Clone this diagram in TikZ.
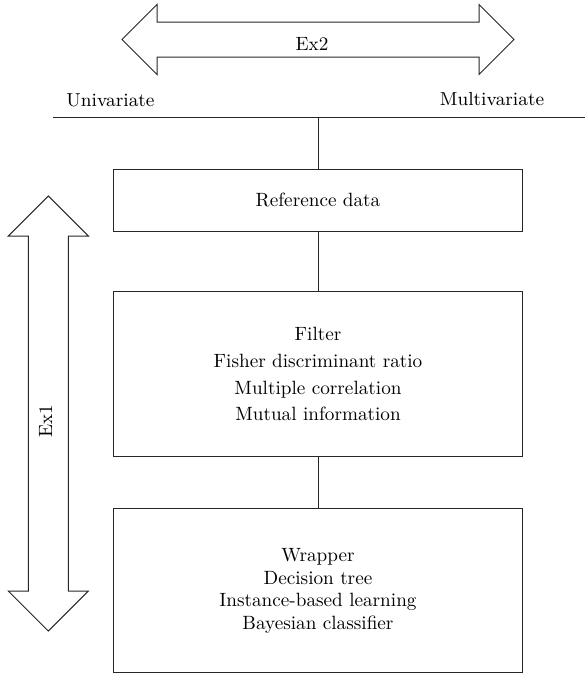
\documentclass[tikz,border=0pt]{standalone}
\usetikzlibrary{positioning}

\begin{document}
\begin{tikzpicture}[
    x=0.5pt, y=-0.5pt,
    databox/.style={rectangle, draw=black!85, line width=0.5pt,
                    minimum width=204.25pt, inner sep=0pt, outer sep=0pt,
                    align=center, font=\fontsize{9.6}{13.4}\selectfont},
    link/.style={draw=black!85, line width=0.5pt},
    bigarrow/.style={draw=black!85, line width=0.5pt, line join=miter},
    axislabel/.style={font=\fontsize{9.4}{11}\selectfont, anchor=base, inner sep=0pt},
    arrowlabel/.style={font=\fontsize{9.6}{11}\selectfont, inner sep=0pt}
]
\useasboundingbox (0,0) rectangle (585,675);

% Ex2 arrow (univariate <-> multivariate)
\draw[bigarrow] (122,39.5) -- (157,4.5) -- (157,22) -- (479,22) -- (479,4.5)
    -- (514,39.5) -- (479,74.5) -- (479,57) -- (157,57) -- (157,74.5) -- cycle;
\node[arrowlabel, anchor=base] (ex2) at (312,50) {Ex2};

% Axis line
\coordinate (axisL) at (53,117.5);
\coordinate (axisR) at (585,117.5);
\draw[link] (axisL) -- (axisR);
\node[axislabel] (uni) at (110.5,106.5) {Univariate};
\node[axislabel] (multi) at (492,105) {Multivariate};

% Boxes
\node[databox, minimum height=30.75pt] (ref) at (318,200.25) {Reference data};
\node[databox, minimum height=82.5pt, below=30.35pt of ref] (filter)
      {Filter\\Fisher discriminant ratio\\Multiple correlation\\Mutual information};
\node[databox, minimum height=82pt, below=26.1pt of filter,
      font=\fontsize{9.6}{11.4}\selectfont] (wrapper)
      {Wrapper\\Decision tree\\Instance-based learning\\Bayesian classifier};

% Connectors
\draw[link] (ref.north |- axisL) -- (ref.north);
\draw[link] (ref) -- (filter);
\draw[link] (filter) -- (wrapper);

% Ex1 arrow
\draw[bigarrow] (48.3,196) -- (88.3,236) -- (68.3,236) -- (68.3,591) -- (88.3,591)
    -- (48.3,631) -- (8.3,591) -- (28.3,591) -- (28.3,236) -- (8.3,236) -- cycle;
\node[arrowlabel, rotate=90] (ex1) at (45.5,421) {Ex1};

\end{tikzpicture}
\end{document}
